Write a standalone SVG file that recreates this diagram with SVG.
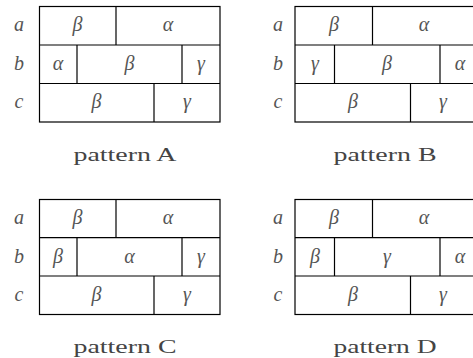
<svg xmlns="http://www.w3.org/2000/svg" width="473" height="358" viewBox="0 0 473 358">
<style>
.box{fill:none;stroke:#000;stroke-width:1.2}
.ln{stroke:#000;stroke-width:1.2}
.g{font-family:"Liberation Serif","DejaVu Serif",serif;font-style:italic;font-size:20px;fill:#555;text-anchor:middle}
.lab{font-family:"Liberation Serif","DejaVu Serif",serif;font-style:italic;font-size:20px;fill:#555;text-anchor:middle}
.cap{font-family:"Liberation Serif","DejaVu Serif",serif;font-size:19px;fill:#444;text-anchor:middle}
</style>
<rect width="473" height="358" fill="#fff"/>
<g id="patternA">
<rect class="box" x="39.5" y="6.5" width="180.5" height="115.5"/>
<g class="ln"><line x1="39.5" y1="45" x2="220" y2="45"/><line x1="39.5" y1="83.5" x2="220" y2="83.5"/>
<line x1="116" y1="6.5" x2="116" y2="45"/><line x1="77" y1="45" x2="77" y2="83.5"/><line x1="182" y1="45" x2="182" y2="83.5"/><line x1="154" y1="83.5" x2="154" y2="122"/></g>
<text class="lab" x="19" y="31">a</text><text class="lab" x="19" y="70">b</text><text class="lab" x="19" y="108">c</text>
<text class="g" x="77.5" y="31">β</text><text class="g" x="168" y="31">α</text>
<text class="g" x="58" y="70">α</text><text class="g" x="129.5" y="70">β</text><text class="g" x="201" y="70">γ</text>
<text class="g" x="96.5" y="108">β</text><text class="g" x="187" y="108">γ</text>
<text class="cap" x="125" y="161" textLength="103" lengthAdjust="spacingAndGlyphs">pattern A</text>
</g>
<g id="patternB">
<rect class="box" x="295" y="6.5" width="181" height="115.5"/>
<g class="ln"><line x1="295" y1="45" x2="476" y2="45"/><line x1="295" y1="83.5" x2="476" y2="83.5"/>
<line x1="372.5" y1="6.5" x2="372.5" y2="45"/><line x1="334.5" y1="45" x2="334.5" y2="83.5"/><line x1="440" y1="45" x2="440" y2="83.5"/><line x1="410.5" y1="83.5" x2="410.5" y2="122"/></g>
<text class="lab" x="278" y="31">a</text><text class="lab" x="278" y="70">b</text><text class="lab" x="278" y="108">c</text>
<text class="g" x="334" y="31">β</text><text class="g" x="424" y="31">α</text>
<text class="g" x="315" y="70">γ</text><text class="g" x="387" y="70">β</text><text class="g" x="460" y="70">α</text>
<text class="g" x="353" y="108">β</text><text class="g" x="443" y="108">γ</text>
<text class="cap" x="385" y="161" textLength="103" lengthAdjust="spacingAndGlyphs">pattern B</text>
</g>
<g id="patternC">
<rect class="box" x="39.5" y="199.5" width="180.5" height="115"/>
<g class="ln"><line x1="39.5" y1="237.7" x2="220" y2="237.7"/><line x1="39.5" y1="276" x2="220" y2="276"/>
<line x1="116" y1="199.5" x2="116" y2="237.7"/><line x1="77" y1="237.7" x2="77" y2="276"/><line x1="182" y1="237.7" x2="182" y2="276"/><line x1="154" y1="276" x2="154" y2="314.5"/></g>
<text class="lab" x="19" y="224">a</text><text class="lab" x="19" y="263">b</text><text class="lab" x="19" y="301">c</text>
<text class="g" x="77.5" y="224">β</text><text class="g" x="168" y="224">α</text>
<text class="g" x="58" y="263">β</text><text class="g" x="129.5" y="263">α</text><text class="g" x="201" y="263">γ</text>
<text class="g" x="96.5" y="301">β</text><text class="g" x="187" y="301">γ</text>
<text class="cap" x="125" y="353" textLength="103" lengthAdjust="spacingAndGlyphs">pattern C</text>
</g>
<g id="patternD">
<rect class="box" x="295" y="199.5" width="181" height="115"/>
<g class="ln"><line x1="295" y1="237.7" x2="476" y2="237.7"/><line x1="295" y1="276" x2="476" y2="276"/>
<line x1="372.5" y1="199.5" x2="372.5" y2="237.7"/><line x1="334.5" y1="237.7" x2="334.5" y2="276"/><line x1="440" y1="237.7" x2="440" y2="276"/><line x1="410.5" y1="276" x2="410.5" y2="314.5"/></g>
<text class="lab" x="278" y="224">a</text><text class="lab" x="278" y="263">b</text><text class="lab" x="278" y="301">c</text>
<text class="g" x="334" y="224">β</text><text class="g" x="424" y="224">α</text>
<text class="g" x="315" y="263">β</text><text class="g" x="387" y="263">γ</text><text class="g" x="460" y="263">α</text>
<text class="g" x="353" y="301">β</text><text class="g" x="443" y="301">γ</text>
<text class="cap" x="385" y="353" textLength="103" lengthAdjust="spacingAndGlyphs">pattern D</text>
</g>
</svg>
